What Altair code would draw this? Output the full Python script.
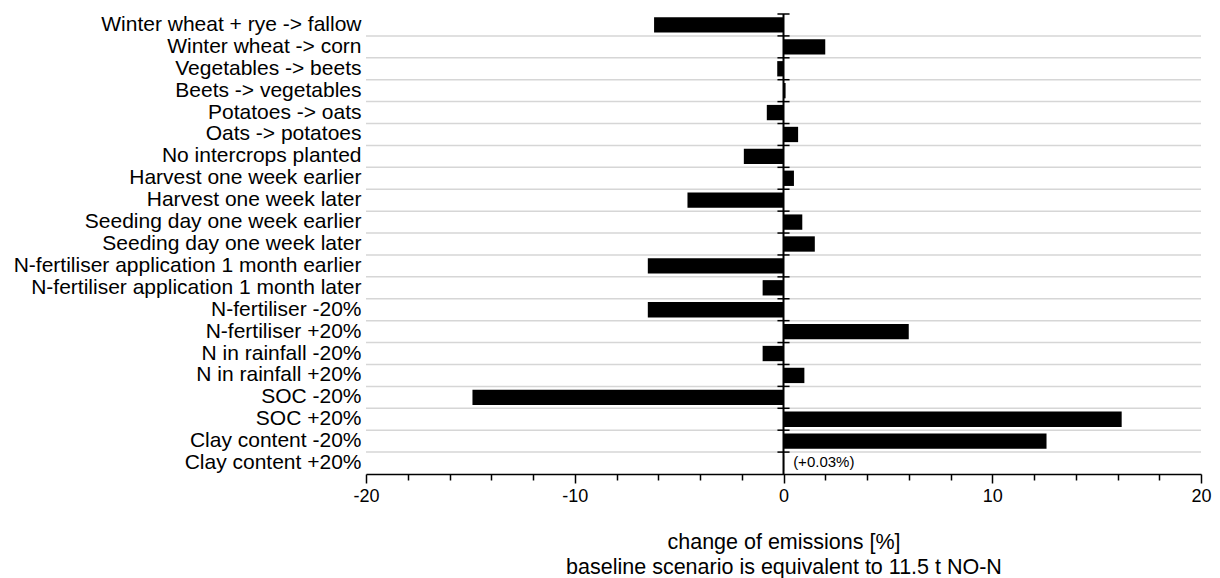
import altair as alt
import pandas as pd

categories = [
    "Winter wheat + rye -> fallow",
    "Winter wheat -> corn",
    "Vegetables -> beets",
    "Beets -> vegetables",
    "Potatoes -> oats",
    "Oats -> potatoes",
    "No intercrops planted",
    "Harvest one week earlier",
    "Harvest one week later",
    "Seeding day one week earlier",
    "Seeding day one week later",
    "N-fertiliser application 1 month earlier",
    "N-fertiliser application 1 month later",
    "N-fertiliser -20%",
    "N-fertiliser +20%",
    "N in rainfall -20%",
    "N in rainfall +20%",
    "SOC -20%",
    "SOC +20%",
    "Clay content -20%",
    "Clay content +20%",
]
changes = [-6.2, 2.0, -0.3, 0.1, -0.8, 0.7, -1.9, 0.5, -4.6, 0.9, 1.5,
           -6.5, -1.0, -6.5, 6.0, -1.0, 1.0, -14.9, 16.2, 12.6, 0.03]
notes = [""] * 20 + ["(+0.03%)"]
x_ticks = list(range(-20, 21, 2))
x_title = ["change of emissions [%]", "baseline scenario is equivalent to 11.5 t NO-N"]

df = pd.DataFrame({"scenario": categories, "change": changes, "note": notes})
zero_df = pd.DataFrame({"zero": [0]})

FONT = "Liberation Sans"
x_scale = alt.Scale(domain=[-20, 20], nice=False, zero=False)
y_scale = alt.Scale(paddingInner=0, paddingOuter=0)

x_axis = alt.Axis(
    values=x_ticks,
    labelExpr="datum.value % 10 == 0 ? '' + datum.value : ''",
    tickSize={"condition": {"test": "datum.value % 10 == 0", "value": 9}, "value": 6},
    grid=False,
    domainColor="black",
    domainWidth=1.5,
    tickColor="black",
    tickWidth=1.5,
    labelFont=FONT,
    labelFontSize=18,
    labelColor="black",
    labelPadding=4,
    labelFlush=False,
    title=x_title,
    titleFont=FONT,
    titleFontSize=21.5,
    titleFontWeight="normal",
    titleColor="black",
    titleLineHeight=25,
    titlePadding=26,
)
y_axis = alt.Axis(
    title=None,
    domain=False,
    ticks=False,
    grid=False,
    labelFont=FONT,
    labelFontSize=21,
    labelColor="black",
    labelPadding=5,
    labelLimit=600,
)

grid = alt.Chart(df).transform_filter(
    alt.datum.scenario != categories[0]
).mark_rule(color="#d6d6d6", strokeWidth=1.5).encode(
    y=alt.Y("scenario:N", sort=categories, scale=y_scale, bandPosition=0, axis=y_axis)
)

bars = alt.Chart(df).mark_bar(color="black", height=alt.RelativeBandSize(band=0.7)).encode(
    x=alt.X("change:Q", scale=x_scale, axis=x_axis),
    y=alt.Y("scenario:N", sort=categories, scale=y_scale, axis=y_axis),
)

zero_line = alt.Chart(zero_df).mark_rule(color="black", strokeWidth=2).encode(
    x=alt.X("zero:Q", scale=x_scale, axis=x_axis)
)

zero_ticks = alt.Chart(df).mark_rule(color="black", strokeWidth=1.5).encode(
    y=alt.Y("scenario:N", sort=categories, scale=y_scale, bandPosition=0, axis=y_axis),
    x=alt.XDatum(-0.29, scale=x_scale, axis=x_axis),
    x2=alt.datum(0.29),
)

note_text = alt.Chart(df).transform_filter(alt.datum.note != "").mark_text(
    align="left", baseline="middle", dx=9, dy=-1, fontSize=15, font=FONT, color="black"
).encode(
    x=alt.X("change:Q", scale=x_scale, axis=x_axis),
    y=alt.Y("scenario:N", sort=categories, scale=y_scale, axis=y_axis),
    text="note:N",
)

chart = alt.layer(grid, bars, zero_line, zero_ticks, note_text).properties(
    width=835,
    height=460,
    autosize=alt.AutoSizeParams(type="none"),
    padding={"left": 358, "top": 6, "right": 11, "bottom": 106},
).configure_view(stroke=None)

chart.save("out.html", embed_options={"renderer": "svg", "actions": False})
